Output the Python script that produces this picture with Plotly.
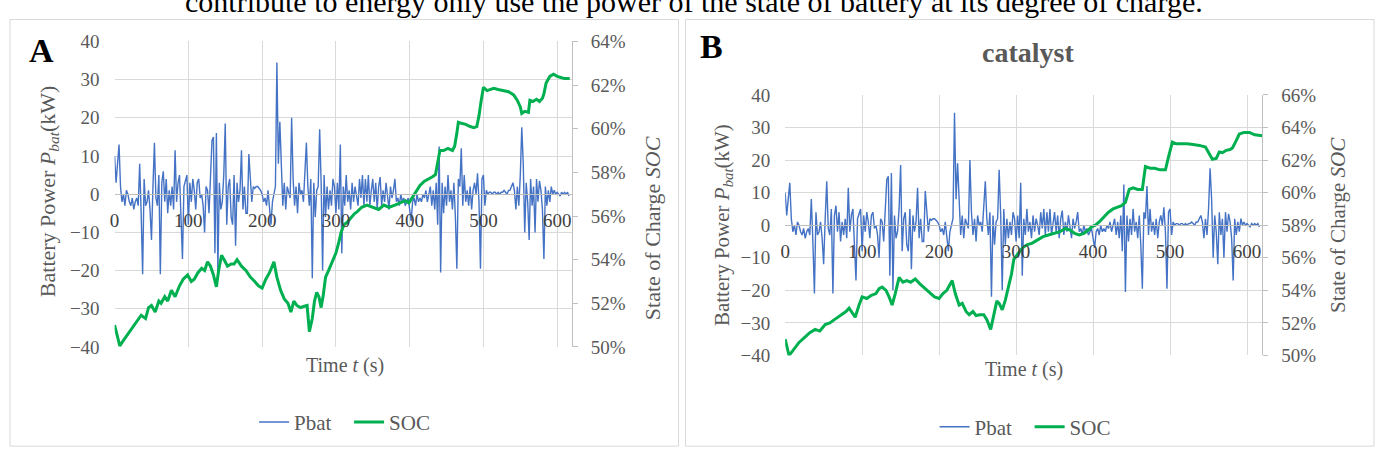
import plotly.graph_objects as go

# ---------------- data ----------------
T = list(range(0, 617, 2))  # time (s), 2 s step

PBAT = [
    10, 3, 8, 13, 2, -2, 0, -3, 1, 0,
    -2, -3, -1, -4, -2, -1, -3, 8, -5, -21,
    4, -3, -2, 1, -4, -12, 2, 13.5, -1, -3,
    5, -21, 3, 6, -2, 4, -5, 1, -3, 2,
    -4, 11.5, -2, 3, 5, -6, -17, 2, 4, 5,
    -8, 3, -2, 4, 1, -4, 3, 4, -1, 0,
    -3, -10, 2, 1, -5, 3, 14, 15, -15.5, 16,
    -20, 3, -4, -2, 5, 18.5, -8, 2, 4, -6,
    -8, 5, -13.5, 3, -2, 1, 11.5, -4, 2, -5,
    -5, 10.5, 3, -2, 2, 1.5, 2, 2, 1.5, 1,
    0, -2, -1, -3, 1, -4, -8, -2, 0, 2,
    34.5, 8, 19, 5, -3, 3, -4, 2, 0, -1,
    20, 4, -3, 2, -5, 3, 0, 1, -2, 5,
    13.5, 2, -3, 4, -22, 3, -6, 1, 2, 17,
    3, -20, 5, -6, 2, -4, 1, -3, 4, 2,
    -5, 3, -4, 13, -15.5, 2, -3, 5, -2, 1,
    -4, 3, -2, 2, 0, -3, 4, -1, 5, -3,
    4, -2, 5, -3, 1, 4, -2, 3, -4, 2,
    4.5, -3, 1, -2, 3, 0, -4, 2, -1, 1,
    4, -2, -1, -3, 0, -2, -1, -3, -2, -1,
    -4, -7, -2, -1, -3, 0, -2, -1, -2, 0,
    -1, 1, -2, 0, 2, -3, 1, -4, 3, -8,
    12.5, -20.5, 3, -5, 2, -3, 5, -2, 1, -4,
    3, -6, -19.5, 4, 2, 12, -3, 5, -2, 1,
    -3, 2, -4, 1, 3, 0, 5.5, -2, -19.5, 4,
    5, -3, 1, 0, 0.5, 0.5, 0, 0.5, 0.5, 0,
    0.5, 0, 0.5, 0.5, 1, 0.5, 0, 1, 1, 2,
    3, 1, -4, 2, -3, 5, 17.5, 8, -10, 3,
    -2, -12, 4, -3, 2, -10, 4, -2, 3.5, 1,
    -4, -17, 2, -3, 1, -2, 2, 0, 1, 0,
    0.5, 0, -0.5, 0.5, 0, 0.5, 0, 0.5, -0.5,
]

SOC_A_T = [0, 3, 7, 12, 20, 28, 36, 42, 46, 50, 55, 60, 63, 68, 72, 77, 82, 88, 93, 99,
           104, 108, 113, 118, 122, 126, 130, 134, 138, 141, 145, 150, 153, 158, 162, 166,
           172, 178, 184, 190, 195, 200, 205, 210, 214, 216, 220, 225, 230, 235, 239, 243,
           247, 252, 256, 261, 264, 268, 271, 274, 277, 280, 283, 286, 290, 295, 300, 304,
           307, 311, 315, 320, 325, 329, 335, 342, 350, 358, 365, 372, 380, 388, 394, 399,
           405, 410, 414, 420, 426, 431, 435, 438, 441, 446, 452, 458, 461, 464, 466, 470,
           476, 482, 487, 491, 494, 497, 500, 505, 510, 514, 520, 527, 534, 541, 546, 550,
           552, 556, 561, 563, 567, 572, 576, 580, 582, 585, 590, 595, 600, 605, 610, 617]
SOC_A = [51.0, 50.6, 50.05, 50.3, 50.7, 51.1, 51.45, 51.3, 51.8, 51.9, 51.6, 52.1, 52.0, 52.3,
         52.1, 52.6, 52.3, 52.8, 53.1, 53.3, 53.0, 53.1, 53.4, 53.6, 53.5, 53.9, 53.7, 53.3,
         52.75, 53.5, 54.2, 53.9, 53.7, 53.8, 53.8, 54.0, 53.7, 53.5, 53.2, 53.0, 52.8, 52.7,
         53.1, 53.4, 53.7, 53.9, 53.2, 52.6, 52.2, 52.0, 51.6, 52.1, 51.9, 51.8, 51.85, 51.9,
         50.7, 51.3, 52.1, 52.5, 52.3, 51.8, 52.4, 53.2, 53.5, 53.9, 54.3, 54.8, 55.25, 55.6,
         55.7, 55.9, 56.1, 56.2, 56.4, 56.5, 56.4, 56.3, 56.5, 56.4, 56.5, 56.6, 56.7, 56.6,
         56.9, 57.2, 57.4, 57.6, 57.7, 57.8, 57.9, 58.4, 59.0, 59.0, 59.1, 59.0, 59.2, 59.8,
         60.3, 60.25, 60.2, 60.1, 60.05, 60.1, 60.6, 61.3, 61.9, 61.75, 61.8, 61.85, 61.8,
         61.75, 61.7, 61.55, 61.3, 61.0, 60.7, 60.8, 60.75, 61.3, 61.25, 61.35, 61.25, 61.4,
         61.6, 62.1, 62.4, 62.5, 62.4, 62.35, 62.3, 62.3]

SOC_B_T = [0, 3, 5, 10, 18, 25, 32, 39, 45, 52, 58, 64, 70, 74, 79, 83, 87, 91, 96, 100,
           106, 112, 118, 122, 126, 131, 135, 139, 143, 148, 153, 158, 163, 169, 175, 182,
           188, 194, 200, 205, 210, 214, 217, 221, 226, 230, 235, 239, 244, 248, 253, 258,
           262, 267, 271, 275, 278, 282, 286, 291, 294, 297, 302, 308, 314, 321, 328, 335,
           342, 350, 357, 364, 370, 376, 382, 388, 394, 398, 403, 408, 414, 420, 426, 432,
           437, 442, 445, 447, 452, 458, 464, 466, 468, 474, 480, 487, 494, 498, 503, 508,
           515, 522, 530, 538, 546, 550, 555, 560, 564, 568, 573, 578, 581, 585, 590, 596,
           603, 610, 616, 620]
SOC_B = [51.0, 50.5, 50.0, 50.3, 50.8, 51.1, 51.4, 51.6, 51.5, 51.9, 52.0, 52.2, 52.4, 52.5,
         52.7, 52.9, 52.6, 52.35, 53.1, 53.6, 53.5, 53.7, 53.8, 54.1, 54.2, 54.0, 53.6, 53.1,
         53.8, 54.8, 54.5, 54.6, 54.5, 54.7, 54.4, 54.1, 53.8, 53.6, 53.5, 53.8, 54.0, 54.3,
         54.6, 53.8, 53.1, 53.2, 52.7, 52.5, 52.7, 52.45, 52.5, 52.5, 52.2, 51.6, 52.5, 53.35,
         53.2, 52.8, 53.4, 54.3, 55.0, 55.9, 56.2, 56.6, 56.8, 56.9, 57.1, 57.3, 57.4, 57.5,
         57.6, 57.8, 57.7, 57.5, 57.4, 57.5, 57.7, 57.9, 58.0, 58.2, 58.5, 58.8, 59.0, 59.1,
         59.2, 59.4, 59.9, 60.2, 60.3, 60.2, 60.2, 60.9, 61.6, 61.5, 61.5, 61.4, 61.4, 62.2,
         63.1, 63.0, 63.0, 63.0, 62.95, 62.9, 62.8, 62.5, 62.05, 62.1, 62.5, 62.45, 62.6,
         62.65, 62.75, 63.1, 63.6, 63.7, 63.7, 63.55, 63.5, 63.5]

X_TICKS = [0, 100, 200, 300, 400, 500, 600]
X_TICK_LABELS = ["0", "100", "200", "300", "400", "500", "600"]

# ---------------- layout helpers ----------------
W, H = 1379, 460
def px(x):
    return x / W
def py(y):
    return 1 - y / H

SERIF = "Liberation Serif, Times New Roman, serif"
GRID = "#d9d9d9"
TXT = "#595959"

A_X = [px(110), px(569)]
A_Y = [py(353), py(33)]
B_X = [px(783), px(1262)]
B_Y = [py(362), py(89)]

fig = go.Figure()
fig.add_trace(go.Scatter(x=T, y=PBAT, xaxis="x", yaxis="y", mode="lines", name="Pbat",
                         line=dict(color="#4472C4", width=1.4), legend="legend"))
fig.add_trace(go.Scatter(x=SOC_A_T, y=SOC_A, xaxis="x", yaxis="y2", mode="lines", name="SOC",
                         line=dict(color="#00B050", width=3), legend="legend"))
fig.add_trace(go.Scatter(x=T, y=PBAT, xaxis="x2", yaxis="y3", mode="lines", name="Pbat",
                         line=dict(color="#4472C4", width=1.4), legend="legend2"))
fig.add_trace(go.Scatter(x=SOC_B_T, y=SOC_B, xaxis="x2", yaxis="y4", mode="lines", name="SOC",
                         line=dict(color="#00B050", width=3), legend="legend2"))

tickfont = dict(family=SERIF, size=19, color=TXT)

def xaxis(domain, pos):
    return dict(domain=domain, anchor="free", position=pos, range=[0, 620],
                tickvals=X_TICKS, ticktext=X_TICK_LABELS, showgrid=True, gridcolor=GRID,
                gridwidth=1, showline=True, linecolor="#bfbfbf", linewidth=1, zeroline=False,
                ticks="", ticklabelstandoff=9, tickfont=dict(family=SERIF, size=19, color="#404040"))

def yleft(domain, anchor):
    return dict(domain=domain, anchor=anchor, range=[-40, 40], dtick=10, showgrid=True,
                gridcolor=GRID, zeroline=False, showline=False, ticks="",
                ticklabelstandoff=14, tickfont=tickfont)

def yright(over, anchor, rng):
    return dict(overlaying=over, anchor=anchor, side="right", range=rng, dtick=2,
                ticksuffix="%", showgrid=False, zeroline=False, showline=True,
                linecolor="#bfbfbf", ticks="outside", ticklen=5, tickcolor="#bfbfbf",
                ticklabelstandoff=9, tickfont=tickfont)

annots = []
def ann(x, y, text, size, angle=0, bold=False, color=TXT, family=SERIF):
    if bold:
        text = "<b>" + text + "</b>"
    annots.append(dict(x=px(x), y=py(y), xref="paper", yref="paper", text=text,
                       showarrow=False, textangle=angle, xanchor="center", yanchor="middle",
                       font=dict(family=family, size=size, color=color)))

# top (cropped) line of surrounding text
annots.append(dict(x=px(692), y=py(10), xref="paper", yref="paper", yanchor="bottom",
                   xanchor="center", showarrow=False,
                   text="contribute to energy only use the power of the state of battery at its degree of charge.",
                   font=dict(family=SERIF, size=30, color="#000000")))

ann(37, 42, "A", 34, bold=True, color="#000000")
ann(44, 190, "Battery Power <i>P</i><sub><i>bat</i></sub>(kW)", 22, angle=-90)
ann(650, 229, "State of Charge <i>SOC</i>", 22, angle=-90)
ann(341, 372, "Time <i>t</i> (s)", 20)

ann(709, 38, "B", 34, bold=True, color="#000000")
ann(1027, 45, "catalyst", 28, bold=True, color=TXT)
ann(720, 225, "Battery Power <i>P</i><sub><i>bat</i></sub>(kW)", 21, angle=-90)
ann(1338, 225, "State of Charge <i>SOC</i>", 21, angle=-90)
ann(1023, 377, "Time <i>t</i> (s)", 20)

shapes = [
    dict(type="rect", xref="paper", yref="paper", x0=px(5), x1=px(676), y0=py(457), y1=py(10),
         line=dict(color=GRID, width=1), fillcolor="rgba(0,0,0,0)", layer="below"),
    dict(type="rect", xref="paper", yref="paper", x0=px(683), x1=px(1374), y0=py(457), y1=py(10),
         line=dict(color=GRID, width=1), fillcolor="rgba(0,0,0,0)", layer="below"),
]

legfont = dict(family=SERIF, size=21, color=TXT)
fig.update_layout(
    width=W, height=H, margin=dict(l=0, r=0, t=0, b=0),
    paper_bgcolor="white", plot_bgcolor="white",
    xaxis=xaxis(A_X, (A_Y[0] + A_Y[1]) / 2),
    yaxis=yleft(A_Y, "x"),
    yaxis2=yright("y", "x", [50, 64]),
    xaxis2=xaxis(B_X, (B_Y[0] + B_Y[1]) / 2),
    yaxis3=yleft(B_Y, "x2"),
    yaxis4=yright("y3", "x2", [50, 66]),
    legend=dict(orientation="h", x=px(250), y=py(432), xanchor="left", yanchor="middle",
                font=legfont, bgcolor="rgba(0,0,0,0)", entrywidth=50, entrywidthmode="pixels"),
    legend2=dict(orientation="h", x=px(933), y=py(437), xanchor="left", yanchor="middle",
                 font=legfont, bgcolor="rgba(0,0,0,0)", entrywidth=50, entrywidthmode="pixels"),
    annotations=annots, shapes=shapes, showlegend=True,
)

fig.write_html("out.html", config={"displayModeBar": False},
               post_script="document.body.style.margin='0';document.body.style.padding='0';")
